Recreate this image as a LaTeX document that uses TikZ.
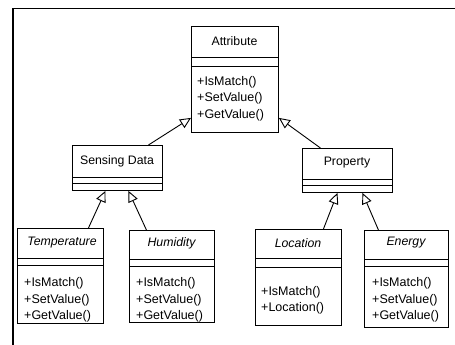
\documentclass[tikz,border=0pt]{standalone}
\usepackage{fontspec}
\setmainfont{Liberation Sans}
\usetikzlibrary{arrows.meta}
\begin{document}
\begin{tikzpicture}[x=1pt,y=-1pt,
  classbox/.style={draw, line width=0.9pt, rectangle, anchor=north west, inner sep=0pt, fill=white},
  cname/.style={font=\fontsize{12.3}{14}\selectfont, inner sep=0pt},
  iname/.style={font=\fontsize{12.3}{14}\selectfont\itshape, inner sep=0pt},
  meth/.style={font=\fontsize{12.5}{16.4}\selectfont, align=left, anchor=west, inner sep=0pt},
  sepline/.style={line width=0.9pt},
  gen/.style={line width=0.9pt, -{Triangle[open, length=11pt, width=10pt, fill=white]}},
  frame/.style={line width=1.4pt}]
\useasboundingbox (0,0) rectangle (455,345);
% frame
\coordinate (fb) at (13,345);
\coordinate (fc) at (13,8.5);
\coordinate (fr) at (455,8.5);
\draw[frame] (fb) -- (fc) -- (fr);

% Attribute
\node[classbox, minimum width=87pt, minimum height=106pt] (attr) at (191,26) {};
\draw[sepline] (attr.west |- 0,57) -- (attr.east |- 0,57);
\draw[sepline] (attr.west |- 0,66) -- (attr.east |- 0,66);
\node[cname] (attrn) at (234.5,41.5) {Attribute};
\node[meth] (attrm) at (197,98.5) {+IsMatch()\\+SetValue()\\+GetValue()};

% Sensing Data
\node[classbox, minimum width=90pt, minimum height=45pt] (sd) at (72,145) {};
\draw[sepline] (sd.west |- 0,177) -- (sd.east |- 0,177);
\draw[sepline] (sd.west |- 0,183) -- (sd.east |- 0,183);
\node[cname] (sdn) at (117,161) {Sensing Data};

% Property
\node[classbox, minimum width=90pt, minimum height=44pt] (prop) at (302,148) {};
\draw[sepline] (prop.west |- 0,179) -- (prop.east |- 0,179);
\draw[sepline] (prop.west |- 0,185) -- (prop.east |- 0,185);
\node[cname] (propn) at (347,163) {Property};

% Temperature
\node[classbox, minimum width=86pt, minimum height=95pt] (temp) at (17,228) {};
\draw[sepline] (temp.west |- 0,258) -- (temp.east |- 0,258);
\draw[sepline] (temp.west |- 0,265) -- (temp.east |- 0,265);
\node[iname] (tempn) at (62,243) {Temperature};
\node[meth] (tempm) at (24,300) {+IsMatch()\\+SetValue()\\+GetValue()};

% Humidity
\node[classbox, minimum width=85pt, minimum height=92pt] (hum) at (129,230) {};
\draw[sepline] (hum.west |- 0,259) -- (hum.east |- 0,259);
\draw[sepline] (hum.west |- 0,266) -- (hum.east |- 0,266);
\node[iname] (humn) at (171.5,243) {Humidity};
\node[meth] (humm) at (136,300) {+IsMatch()\\+SetValue()\\+GetValue()};

% Location
\node[classbox, minimum width=86pt, minimum height=96pt] (loc) at (255,229) {};
\draw[sepline] (loc.west |- 0,258) -- (loc.east |- 0,258);
\draw[sepline] (loc.west |- 0,267) -- (loc.east |- 0,267);
\node[iname] (locn) at (298,243) {Location};
\node[meth] (locm) at (261,300.5) {+IsMatch()\\+Location()};

% Energy
\node[classbox, minimum width=84pt, minimum height=97pt] (en) at (364,230) {};
\draw[sepline] (en.west |- 0,259) -- (en.east |- 0,259);
\draw[sepline] (en.west |- 0,266) -- (en.east |- 0,266);
\node[iname] (enn) at (406,243) {Energy};
\node[meth] (enm) at (372,300) {+IsMatch()\\+SetValue()\\+GetValue()};

% generalizations
\draw[gen] ([xshift=31pt]sd.north) -- ([yshift=15pt]attr.south west);
\draw[gen] ([xshift=-27pt]prop.north) -- ([yshift=15pt]attr.south east);
\draw[gen] ([xshift=28pt]temp.north) -- ([xshift=-12pt]sd.south);
\draw[gen] ([xshift=-25.5pt]hum.north) -- ([xshift=11pt]sd.south);
\draw[gen] ([xshift=25pt]loc.north) -- ([xshift=-10pt]prop.south);
\draw[gen] ([xshift=-28pt]en.north) -- ([xshift=15pt]prop.south);
\end{tikzpicture}
\end{document}
